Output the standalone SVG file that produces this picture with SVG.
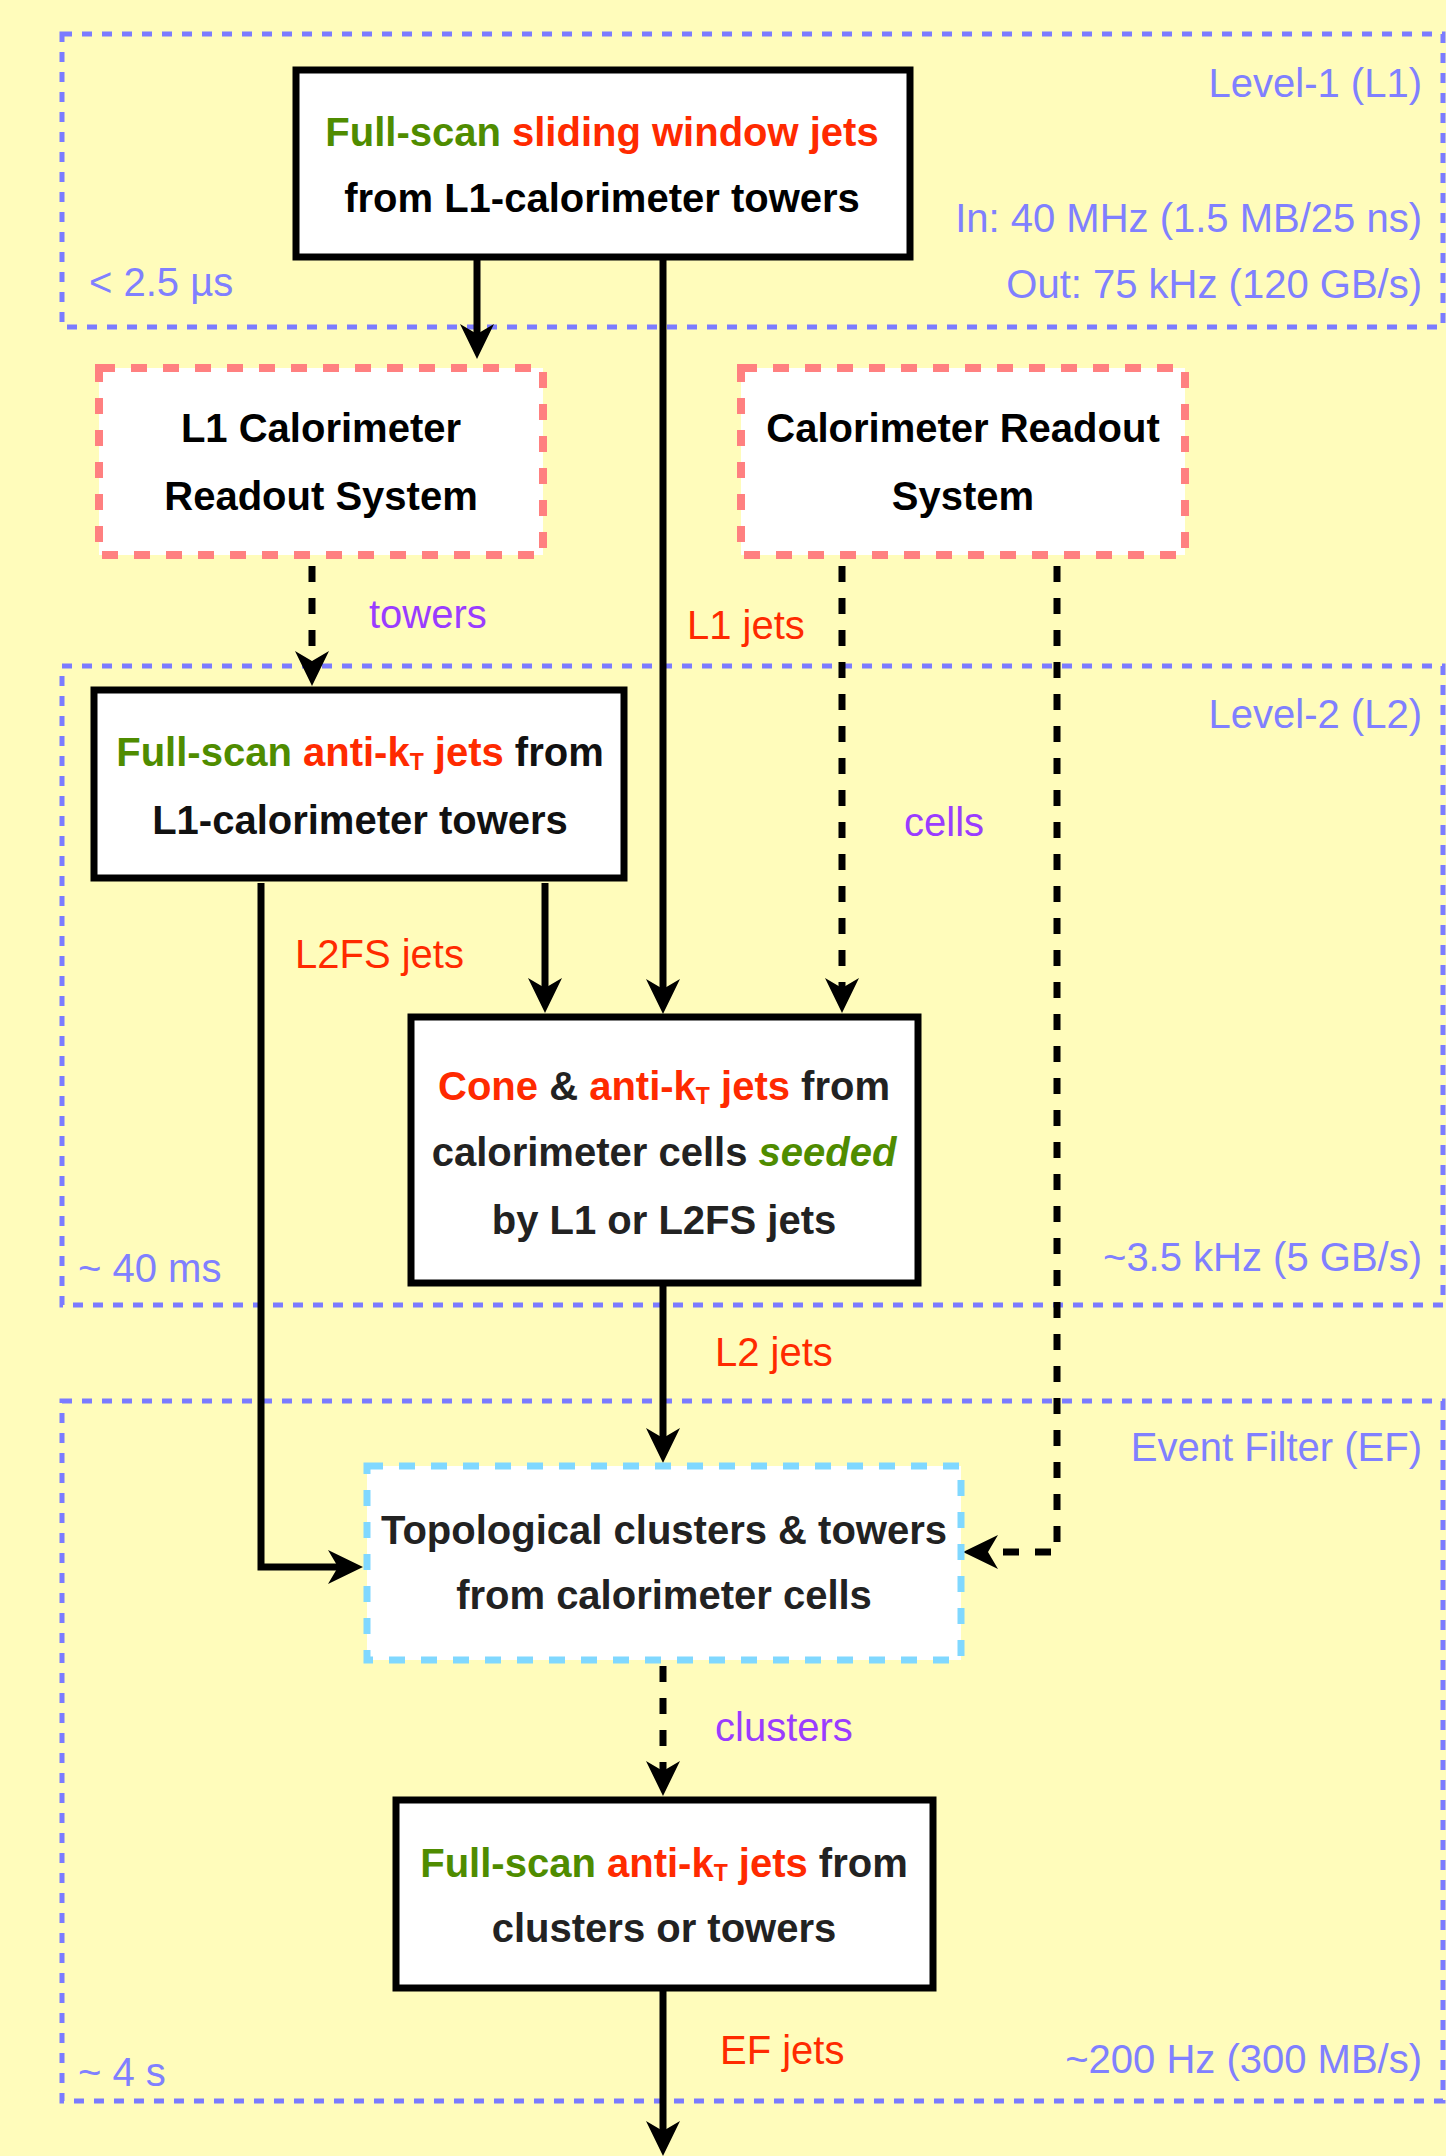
<svg xmlns="http://www.w3.org/2000/svg" width="1446" height="2156" viewBox="0 0 1446 2156">
<style>
.lvl{fill:none;stroke:#7b7bff;stroke-width:5;stroke-dasharray:10 10}
.nd{fill:#fff;stroke:#000;stroke-width:7}
.rd{fill:#fff;stroke:#ff8080;stroke-width:8;stroke-dasharray:16 16}
.cy{fill:#fff;stroke:#80d8ff;stroke-width:7;stroke-dasharray:16 16}
.t{font-family:"Liberation Sans",Arial,sans-serif;font-size:40px;font-weight:bold;text-anchor:middle}
.lb{font-family:"Liberation Sans",Arial,sans-serif;font-size:40px;fill:#8080ff}
.lab{font-family:"Liberation Sans",Arial,sans-serif;font-size:40px}
.g{fill:#4f8c00}.r{fill:#ff2a00}.p{fill:#9a3cff}
.sub{font-size:23px}
.c{fill:none;stroke:#000;stroke-width:7}
.d{stroke-dasharray:16 16}
</style>
<defs>
<marker id="ah" markerUnits="userSpaceOnUse" viewBox="0 -18 36 36" markerWidth="36" markerHeight="36" refX="10" refY="0" orient="auto"><path d="M0,-17 L35,0 L0,17 L10,0 Z" fill="#000"/></marker>
</defs>
<rect width="1446" height="2156" fill="#fffcbb"/>
<g id="levels">
<rect class="lvl" x="62" y="34" width="1381" height="293"/>
<rect class="lvl" x="62" y="666" width="1381" height="639"/>
<rect class="lvl" x="62" y="1401" width="1381" height="700"/>
<text class="lb" x="1422" y="97" text-anchor="end">Level-1 (L1)</text>
<text class="lb" x="1422" y="232" text-anchor="end">In: 40 MHz (1.5 MB/25 ns)</text>
<text class="lb" x="1422" y="298" text-anchor="end">Out: 75 kHz (120 GB/s)</text>
<text class="lb" x="89" y="296">&lt; 2.5 µs</text>
<text class="lb" x="1422" y="728" text-anchor="end">Level-2 (L2)</text>
<text class="lb" x="78" y="1282">~ 40 ms</text>
<text class="lb" x="1422" y="1271" text-anchor="end">~3.5 kHz (5 GB/s)</text>
<text class="lb" x="1422" y="1461" text-anchor="end">Event Filter (EF)</text>
<text class="lb" x="78" y="2086">~ 4 s</text>
<text class="lb" x="1422" y="2073" text-anchor="end">~200 Hz (300 MB/s)</text>
</g>
<g id="connectors">
<path class="c" d="M477,257 V334" marker-end="url(#ah)"/>
<path class="c" d="M663,257 V989" marker-end="url(#ah)"/>
<path class="c d" d="M312,566 V661" marker-end="url(#ah)"/>
<path class="c d" d="M842,566 V988" marker-end="url(#ah)"/>
<path class="c d" d="M1057,566 V1552 H988" marker-end="url(#ah)"/>
<path class="c" d="M261,883 V1567 H338" marker-end="url(#ah)"/>
<path class="c" d="M545,883 V988" marker-end="url(#ah)"/>
<path class="c" d="M663,1286 V1438" marker-end="url(#ah)"/>
<path class="c d" d="M663,1666 V1771" marker-end="url(#ah)"/>
<path class="c" d="M663,1991 V2131" marker-end="url(#ah)"/>
<text class="lab p" x="369" y="628">towers</text>
<text class="lab r" x="687" y="639">L1 jets</text>
<text class="lab p" x="904" y="836">cells</text>
<text class="lab r" x="295" y="968">L2FS jets</text>
<text class="lab r" x="715" y="1366">L2 jets</text>
<text class="lab p" x="715" y="1741">clusters</text>
<text class="lab r" x="720" y="2064">EF jets</text>
</g>
<g id="n-l1jets">
<rect class="nd" x="296" y="70" width="614" height="187"/>
<text class="t" x="602" y="146"><tspan class="g">Full-scan </tspan><tspan class="r">sliding window jets</tspan></text>
<text class="t" x="602" y="212">from L1-calorimeter towers</text>
</g>
<g id="n-l1calo">
<rect class="rd" x="99" y="368" width="444" height="187"/>
<text class="t" x="321" y="442">L1 Calorimeter</text>
<text class="t" x="321" y="510">Readout System</text>
</g>
<g id="n-caloro">
<rect class="rd" x="741" y="368" width="444" height="187"/>
<text class="t" x="963" y="442">Calorimeter Readout</text>
<text class="t" x="963" y="510">System</text>
</g>
<g id="n-l2fs">
<rect class="nd" x="94" y="690" width="530" height="188"/>
<text class="t" x="360" y="766" fill="#111"><tspan class="g">Full-scan </tspan><tspan class="r">anti-k</tspan><tspan class="r sub" dy="4">T</tspan><tspan class="r" dy="-4"> jets</tspan> from</text>
<text class="t" x="360" y="834" fill="#111">L1-calorimeter towers</text>
</g>
<g id="n-l2">
<rect class="nd" x="411" y="1017" width="507" height="266"/>
<text class="t" x="664" y="1100" fill="#222"><tspan class="r">Cone</tspan> &amp; <tspan class="r">anti-k</tspan><tspan class="r sub" dy="4">T</tspan><tspan class="r" dy="-4"> jets</tspan> from</text>
<text class="t" x="664" y="1166" fill="#222">calorimeter cells <tspan class="g" font-style="italic">seeded</tspan></text>
<text class="t" x="664" y="1234" fill="#222">by L1 or L2FS jets</text>
</g>
<g id="n-topo">
<rect class="cy" x="367" y="1466" width="594" height="194"/>
<text class="t" x="664" y="1544" fill="#222">Topological clusters &amp; towers</text>
<text class="t" x="664" y="1609" fill="#222">from calorimeter cells</text>
</g>
<g id="n-ef">
<rect class="nd" x="396" y="1800" width="537" height="188"/>
<text class="t" x="664" y="1877" fill="#222"><tspan class="g">Full-scan </tspan><tspan class="r">anti-k</tspan><tspan class="r sub" dy="4">T</tspan><tspan class="r" dy="-4"> jets</tspan> from</text>
<text class="t" x="664" y="1942" fill="#222">clusters or towers</text>
</g>
</svg>
